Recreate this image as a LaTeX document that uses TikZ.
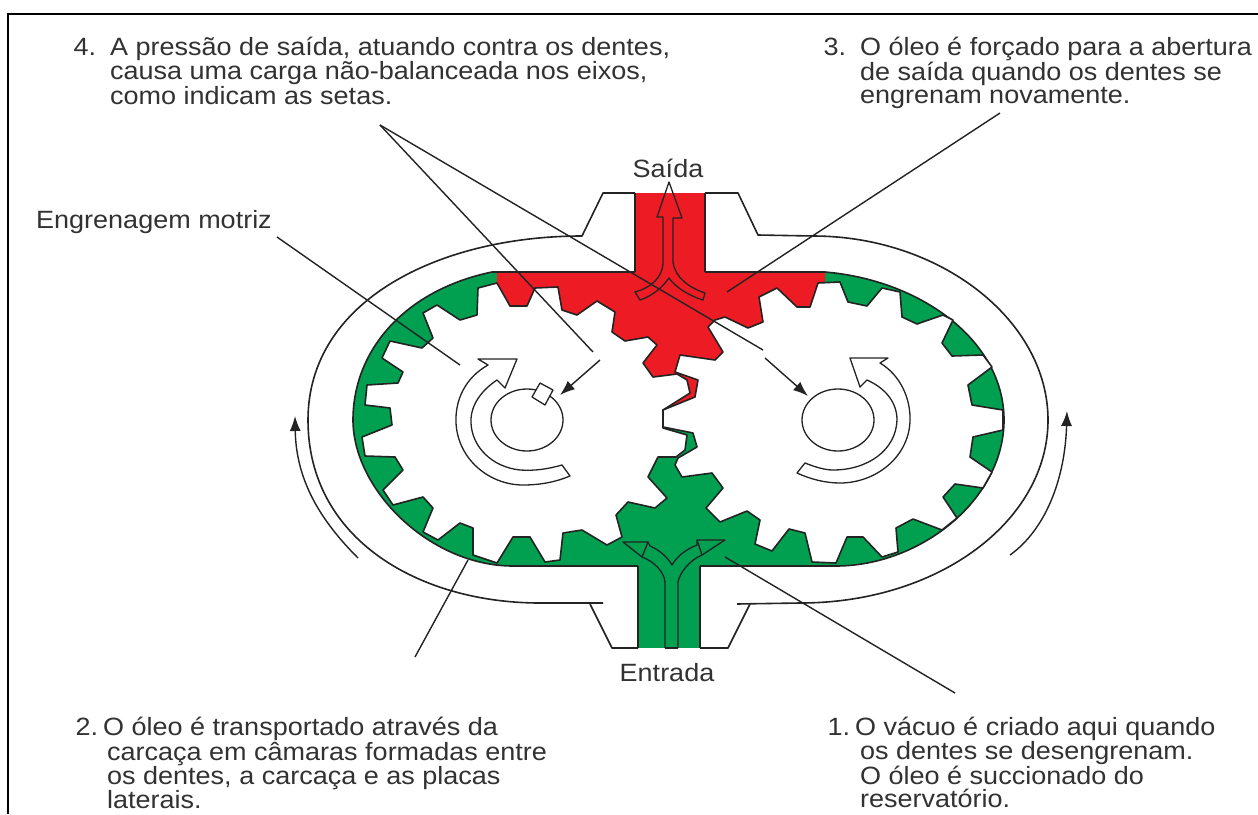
\documentclass[tikz,border=0pt]{standalone}
\usepackage{fontspec}
\setmainfont{Liberation Sans}
\newfontfamily\wideface[FakeStretch=1.08]{Liberation Sans}
\usetikzlibrary{arrows.meta}
\definecolor{oilred}{RGB}{237,28,36}
\definecolor{oilgreen}{RGB}{0,160,80}
\definecolor{inktext}{RGB}{50,50,50}
\definecolor{inkline}{RGB}{35,35,35}
\tikzset{
  ln/.style={draw=inkline,line width=1.6pt,line join=round},
  thinln/.style={draw=inkline,line width=1.3pt,line join=round},
  gearbody/.style={ln,fill=white},
  leader/.style={draw=inkline,line width=1.4pt},
  pointer/.style={leader,-{Latex[length=15pt,width=11pt]}},
  label/.style={inner sep=0pt,anchor=north west,align=left,text=inktext,font=\wideface\fontsize{25}{22.7}\selectfont},
  tag/.style={inner sep=0pt,text=inktext,font=\wideface\fontsize{25}{24}\selectfont},
}
\begin{document}
\begin{tikzpicture}[x=1pt,y=-1pt]
\useasboundingbox (0,0) rectangle (1258,814);
\fill[white] (0,0) rectangle (1258,814);
% frame
\draw[draw=black,line width=2.6pt] (8,814) -- (8,14) -- (1258,14);

% casing
\draw[ln] (635,193) -- (603,193) -- (582,236) .. controls (440,236) and (308,300) .. (308,420) .. controls (308,540) and (420,603) .. (540,603) -- (603,603);
\draw[ln] (590,604) -- (612,648) -- (638,648);
\draw[ln] (705,193) -- (738,193) -- (758,235) -- (813,236) .. controls (940,236) and (1048,320) .. (1048,420) .. controls (1048,520) and (940,603) .. (800,603) -- (737,604);
\draw[ln] (700,648) -- (728,648) -- (750,604);

% cavity, green
\path[fill=oilgreen] (492,272) .. controls (405,290) and (353,350) .. (353,420) .. controls (353,490) and (430,566) .. (513,566) -- (836,566) .. controls (920,566) and (1004,500) .. (1004,420) .. controls (1004,340) and (920,280) .. (825,272) -- cycle;
\fill[oilgreen] (638,560) rectangle (700,648);
% red part
\fill[oilred] (497,272) -- (825,272) -- (825,285) -- (800,340) -- (700,400) -- (665,418) -- (600,400) -- (497,310) -- cycle;
\fill[oilred] (635,193) rectangle (705,280);
% cavity outline
\draw[ln] (635,272) -- (492,272) .. controls (405,290) and (353,350) .. (353,420) .. controls (353,490) and (430,566) .. (513,566) -- (638,566);
\draw[ln] (700,566) -- (836,566) .. controls (920,566) and (1004,500) .. (1004,420) .. controls (1004,340) and (920,280) .. (825,272) -- (705,272);
\draw[ln] (635,193) -- (635,272);
\draw[ln] (705,193) -- (705,272);
\draw[ln] (638,566) -- (638,648);
\draw[ln] (700,566) -- (700,648);

% left gear
\path[gearbody] (478,288) -- (497,283) -- (510,306) -- (527,306) -- (535,288) -- (558,287) -- (562,310) -- (577,315) -- (597,301) -- (615,312) -- (612,332) -- (625,341) -- (648,337) -- (657,345) -- (643,363) -- (653,377) -- (677,374) -- (687,380) -- (690,393) -- (663,410) -- (663,428) -- (687,435) -- (685,450) -- (676,457) -- (658,457) -- (648,477) -- (667,498) -- (655,508) -- (628,502) -- (616,515) -- (622,537) -- (607,545) -- (582,530) -- (563,533) -- (560,560) -- (545,562) -- (530,537) -- (513,537) -- (497,563) -- (473,555) -- (473,528) -- (460,523) -- (438,540) -- (423,532) -- (433,508) -- (423,497) -- (393,505) -- (383,490) -- (403,470) -- (395,457) -- (365,456) -- (362,437) -- (392,425) -- (390,408) -- (365,405) -- (367,385) -- (398,383) -- (403,372) -- (382,358) -- (390,341) -- (422,348) -- (433,338) -- (423,313) -- (437,305) -- (460,320) -- (477,315) -- cycle;
% right gear
\path[gearbody] (680,355) -- (715,360) -- (723,352) -- (708,327) -- (715,320) -- (725,317) -- (748,328) -- (763,322) -- (759,297) -- (777,288) -- (797,307) -- (810,307) -- (818,283) -- (840,282) -- (848,302) -- (867,306) -- (882,288) -- (900,292) -- (902,317) -- (917,324) -- (943,315) -- (953,320) -- (942,343) -- (952,356) -- (983,355) -- (992,367) -- (968,385) -- (972,405) -- (1003,410) -- (1003,430) -- (973,437) -- (970,457) -- (992,472) -- (983,488) -- (955,484) -- (943,497) -- (957,518) -- (942,530) -- (913,519) -- (896,528) -- (898,552) -- (882,557) -- (863,537) -- (847,537) -- (836,563) -- (812,562) -- (805,533) -- (789,529) -- (772,551) -- (755,544) -- (760,520) -- (747,511) -- (720,522) -- (706,508) -- (723,488) -- (712,473) -- (682,477) -- (675,465) -- (678,458) -- (697,447) -- (693,433) -- (663,427) -- (663,410) -- (695,397) -- (698,380) -- (675,372) -- cycle;

% shafts
\draw[thinln] (527,420) ellipse [x radius=36,y radius=31];
\draw[thinln,fill=white] (540,383) -- (553,390) -- (545,405) -- (532,397) -- cycle;
\draw[thinln] (838,420) ellipse [x radius=36,y radius=31];

% rotation arrows
\draw[thinln] (505,388) -- (517,359) -- (478,359) -- (488,365) .. controls (465,378) and (455,400) .. (456,423) .. controls (458,460) and (490,485) .. (523,485) .. controls (540,485) and (556,482) .. (570,476) -- (562,465) .. controls (548,469) and (535,471) .. (520,470) .. controls (492,467) and (472,447) .. (471,423) .. controls (470,405) and (482,390) .. (497,380) -- cycle;
\draw[thinln] (860,387) -- (850,358) -- (888,358) -- (880,363) .. controls (900,375) and (911,398) .. (910,422) .. controls (908,458) and (875,483) .. (840,483) .. controls (825,483) and (810,479) .. (797,473) -- (805,463) .. controls (815,467) and (825,470) .. (833,470) .. controls (868,470) and (896,450) .. (897,420) .. controls (897,402) and (885,388) .. (867,380) -- cycle;

% outlet arrow
\draw[thinln,draw=inkline] (669,182) -- (682,218) -- (673,218) -- (673,262) .. controls (675,278) and (690,288) .. (705,293) -- (703,300) .. controls (690,296) and (676,288) .. (669,278) .. controls (662,288) and (652,296) .. (640,300) -- (635,292) .. controls (650,288) and (663,278) .. (663,262) -- (663,217) -- (657,217) -- cycle;
% inlet arrow
\draw[thinln] (665,648) -- (665,582) .. controls (664,572) and (655,562) .. (642,557) -- (648,542) -- (623,542) -- (642,557);
\draw[thinln] (648,542) -- (650,546) .. controls (660,550) and (668,558) .. (672,565) .. controls (676,558) and (684,550) .. (697,545) -- (697,540) -- (725,540) -- (702,555) .. controls (690,560) and (680,572) .. (678,582) -- (678,648);
\draw[thinln] (665,648) -- (678,648);
\draw[thinln] (697,540) -- (702,555);

% labels
\node[tag] (saida) at (668,168) {Saída};
\node[tag] (entrada) at (667,673) {Entrada};
\node[label] (motriz) at (36,210) {Engrenagem motriz};
\node[label] (n4) at (110,37) {\llap{4.\hspace{14pt}}A pressão de saída, atuando contra os dentes,\\causa uma carga não-balanceada nos eixos,\\como indicam as setas.};
\node[label] (n3) at (860,37) {\llap{3.\hspace{14pt}}O óleo é forçado para a abertura\\de saída quando os dentes se\\engrenam novamente.};
\node[label] (n2) at (103,717) {\llap{2.\hspace{5pt}}O óleo é transportado através da\\\hspace*{4pt}carcaça em câmaras formadas entre\\\hspace*{4pt}os dentes, a carcaça e as placas\\\hspace*{4pt}laterais.};
\node[label] (n1) at (855,717) {\llap{1.\hspace{5pt}}O vácuo é criado aqui quando\\\hspace*{5pt}os dentes se desengrenam.\\\hspace*{5pt}O óleo é succionado do\\\hspace*{5pt}reservatório.};

% leader ends
\coordinate (apex) at (380,125);
\coordinate (a4l) at (593,352);
\coordinate (a4r) at (763,350);
\coordinate (arrLs) at (600,360);
\coordinate (arrLe) at (560,395);
\coordinate (arrRs) at (765,358);
\coordinate (arrRe) at (808,396);
\coordinate (m1) at (277,237);
\coordinate (m2) at (460,365);
\coordinate (t3a) at (1000,113);
\coordinate (t3b) at (727,292);
\coordinate (t2a) at (415,657);
\coordinate (t2b) at (468,560);
\coordinate (t1a) at (955,693);
\coordinate (t1b) at (725,557);
\coordinate (fLa) at (358,558);
\coordinate (fLb) at (295,416);
\coordinate (fRa) at (1010,555);
\coordinate (fRb) at (1067,411);

\draw[leader] (apex) -- (a4l);
\draw[leader] (apex) -- (a4r);
\draw[pointer] (arrLs) -- (arrLe);
\draw[pointer] (arrRs) -- (arrRe);
\draw[leader] (m1) -- (m2);
\draw[leader] (t3a) -- (t3b);
\draw[leader] (t2a) -- (t2b);
\draw[leader] (t1a) -- (t1b);
\draw[pointer] (fLa) .. controls (320,520) and (296,480) .. (fLb);
\draw[pointer] (fRa) .. controls (1045,530) and (1065,480) .. (fRb);
\end{tikzpicture}
\end{document}
